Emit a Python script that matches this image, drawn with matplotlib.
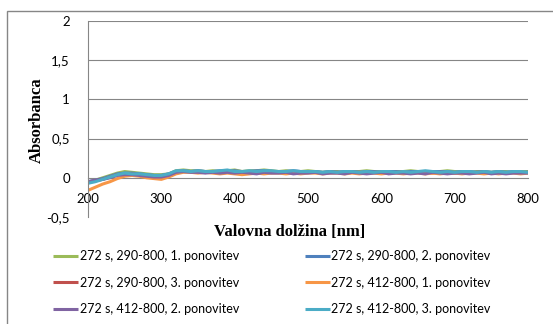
import numpy as np
import matplotlib
matplotlib.use('Agg')
import matplotlib.pyplot as plt
from matplotlib.patches import Rectangle

# ==================== 数据 ====================

wavelength = np.arange(200, 801, 10)

green_1 = [-0.06, -0.03, 0.00, 0.03, 0.06, 0.08, 0.07, 0.06, 0.05, 0.04,
           0.04, 0.05, 0.09, 0.10, 0.09, 0.09, 0.08, 0.09, 0.08, 0.09,
           0.10, 0.08, 0.09, 0.09, 0.10, 0.09, 0.08, 0.09, 0.08, 0.08,
           0.09, 0.08, 0.07, 0.08, 0.08, 0.07, 0.08, 0.08, 0.09, 0.08,
           0.08, 0.07, 0.08, 0.08, 0.09, 0.08, 0.07, 0.08, 0.08, 0.09,
           0.08, 0.08, 0.07, 0.08, 0.08, 0.07, 0.08, 0.08, 0.07, 0.08,
           0.08]
blue_2 = [-0.05, -0.03, -0.01, 0.02, 0.05, 0.06, 0.06, 0.05, 0.04, 0.03,
          0.03, 0.05, 0.08, 0.09, 0.08, 0.09, 0.08, 0.08, 0.09, 0.08,
          0.09, 0.08, 0.08, 0.09, 0.09, 0.08, 0.08, 0.08, 0.09, 0.08,
          0.08, 0.08, 0.07, 0.08, 0.07, 0.08, 0.08, 0.07, 0.08, 0.08,
          0.07, 0.08, 0.08, 0.07, 0.08, 0.08, 0.07, 0.08, 0.08, 0.08,
          0.07, 0.08, 0.08, 0.07, 0.08, 0.07, 0.08, 0.07, 0.08, 0.07,
          0.07]
red_3 = [-0.06, -0.04, -0.02, 0.01, 0.04, 0.05, 0.05, 0.04, 0.03, 0.02,
         0.02, 0.04, 0.07, 0.08, 0.08, 0.07, 0.08, 0.07, 0.08, 0.07,
         0.08, 0.07, 0.08, 0.08, 0.07, 0.08, 0.07, 0.07, 0.08, 0.07,
         0.07, 0.07, 0.06, 0.07, 0.07, 0.06, 0.07, 0.07, 0.06, 0.07,
         0.07, 0.06, 0.07, 0.07, 0.06, 0.07, 0.07, 0.06, 0.07, 0.07,
         0.06, 0.07, 0.06, 0.07, 0.07, 0.06, 0.07, 0.06, 0.07, 0.06,
         0.07]
orange_1 = [-0.16, -0.12, -0.08, -0.05, -0.01, 0.02, 0.03, 0.02, 0.00, -0.01,
            -0.02, 0.01, 0.05, 0.07, 0.07, 0.06, 0.07, 0.06, 0.05, 0.06,
            0.05, 0.04, 0.05, 0.06, 0.05, 0.06, 0.06, 0.05, 0.06, 0.05,
            0.06, 0.06, 0.05, 0.06, 0.06, 0.05, 0.06, 0.05, 0.06, 0.06,
            0.05, 0.06, 0.06, 0.05, 0.06, 0.06, 0.05, 0.06, 0.05, 0.06,
            0.06, 0.05, 0.06, 0.06, 0.05, 0.06, 0.05, 0.06, 0.06, 0.05,
            0.06]
purple_2 = [-0.05, -0.03, -0.02, 0.00, 0.03, 0.04, 0.04, 0.03, 0.02, 0.01,
            0.01, 0.03, 0.07, 0.08, 0.07, 0.07, 0.06, 0.07, 0.06, 0.07,
            0.06, 0.07, 0.06, 0.05, 0.07, 0.06, 0.06, 0.07, 0.05, 0.06,
            0.06, 0.07, 0.05, 0.06, 0.06, 0.05, 0.07, 0.06, 0.05, 0.06,
            0.07, 0.05, 0.06, 0.06, 0.05, 0.06, 0.05, 0.07, 0.06, 0.05,
            0.06, 0.06, 0.05, 0.06, 0.07, 0.05, 0.06, 0.05, 0.06, 0.06,
            0.06]
teal_3 = [-0.07, -0.05, -0.02, 0.01, 0.04, 0.06, 0.05, 0.05, 0.04, 0.03,
          0.03, 0.05, 0.09, 0.09, 0.08, 0.09, 0.08, 0.08, 0.09, 0.10,
          0.08, 0.08, 0.09, 0.08, 0.09, 0.09, 0.08, 0.08, 0.09, 0.08,
          0.08, 0.08, 0.07, 0.08, 0.07, 0.08, 0.08, 0.07, 0.08, 0.07,
          0.08, 0.08, 0.07, 0.08, 0.07, 0.08, 0.09, 0.08, 0.07, 0.08,
          0.07, 0.08, 0.08, 0.07, 0.08, 0.07, 0.08, 0.07, 0.08, 0.08,
          0.07]

series_labels = [
    '272 s, 290-800, 1. ponovitev',
    '272 s, 290-800, 2. ponovitev',
    '272 s, 290-800, 3. ponovitev',
    '272 s, 412-800, 1. ponovitev',
    '272 s, 412-800, 2. ponovitev',
    '272 s, 412-800, 3. ponovitev',
]
series_colors = ['#9BBB59', '#4F81BD', '#C0504D', '#F79646', '#8064A2', '#4BACC6']

y_ticks = [-0.5, 0, 0.5, 1, 1.5, 2]
y_tick_labels = ['-0,5', '0', '0,5', '1', '1,5', '2']
x_ticks = [200, 300, 400, 500, 600, 700, 800]

# ==================== 绘图 ====================

W, H = 553, 324
fig = plt.figure(figsize=(W / 100, H / 100), dpi=100)

# 外框
fig.patches.append(Rectangle((7 / W, -0.1), 1.2, 1 - 11 / H + 0.1,
                             transform=fig.transFigure, fill=False,
                             edgecolor='#868686', linewidth=1.0))

ax = fig.add_axes([88 / W, 1 - 217 / H, 440 / W, 196 / H])

all_series = [green_1, blue_2, red_3, orange_1, purple_2, teal_3]
handles = []
for vals, lab, col in zip(all_series, series_labels, series_colors):
    h, = ax.plot(wavelength, vals, color=col, linewidth=2.2, label=lab,
                 solid_capstyle='butt')
    handles.append(h)

ax.set_xlim(200, 800)
ax.set_ylim(-0.5, 2)
ax.set_yticks(y_ticks)
ax.set_yticklabels(y_tick_labels)
ax.set_xticks(x_ticks)

for y in [0.5, 1, 1.5, 2]:
    ax.axhline(y, color='#868686', linewidth=0.8, zorder=0)

ax.spines['top'].set_visible(False)
ax.spines['right'].set_visible(False)
ax.spines['left'].set_color('#868686')
ax.spines['bottom'].set_color('#868686')
ax.spines['bottom'].set_position(('data', 0))
ax.spines['bottom'].set_zorder(0)

ax.tick_params(axis='both', length=0, colors='black')
ax.tick_params(axis='x', pad=11)
ax.tick_params(axis='y', pad=13)
for t in ax.get_xticklabels() + ax.get_yticklabels():
    t.set_fontfamily(['Lato', 'DejaVu Sans'])
    t.set_fontsize(9.5)

fig.text(37 / W, 1 - 120 / H, 'Absorbanca', rotation=90, ha='center', va='center',
         fontfamily='Liberation Serif', fontweight='bold', fontsize=12)
fig.text(290 / W, 1 - 232 / H, 'Valovna dolžina [nm]', ha='center', va='center',
         fontfamily='Liberation Serif', fontweight='bold', fontsize=12)

order = [0, 2, 4, 1, 3, 5]
fig.legend([handles[i] for i in order], [series_labels[i] for i in order],
           loc='upper left', bbox_to_anchor=(47 / W, 1 - 244 / H), ncol=2,
           frameon=False, borderpad=0, handlelength=2.0, handletextpad=0.15,
           columnspacing=5.2, labelspacing=1.15,
           prop=dict(family=['Lato', 'DejaVu Sans'], size=9))

fig.savefig('out.png', dpi=100)
